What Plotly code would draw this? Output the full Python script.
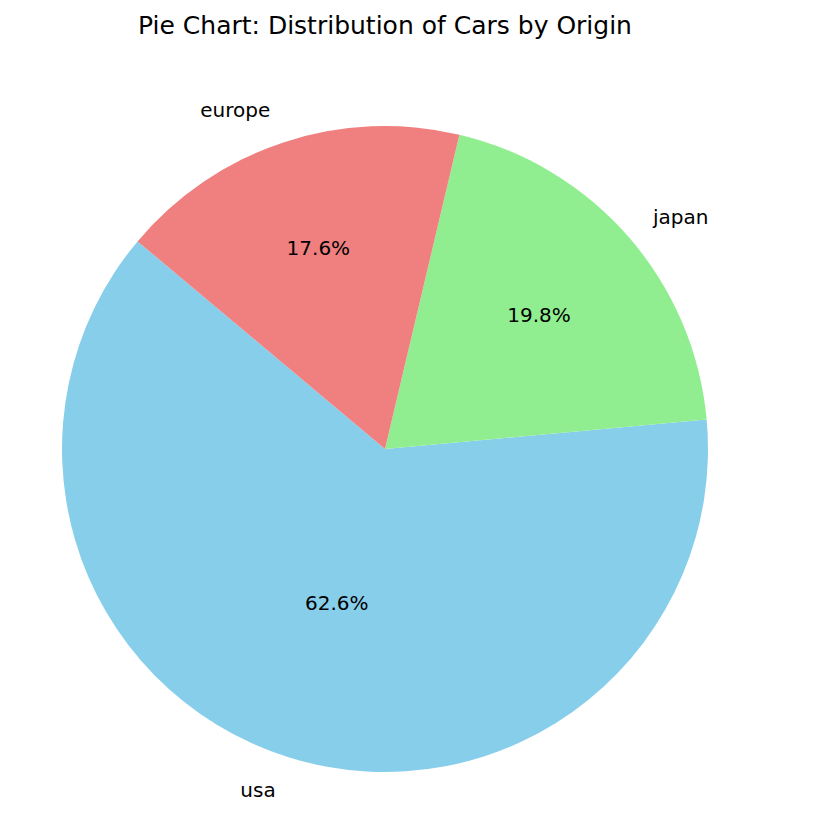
import plotly.graph_objects as go

origins = ['usa', 'japan', 'europe']
counts = [249, 79, 70]
colors = ['skyblue', 'lightgreen', 'lightcoral']
start_angle = 140  # degrees, counter-clockwise from 3 o'clock

W, H = 823, 817
off = 8  # page margin of the browser
cx, cy, r = 385 - off, 449 - off, 323  # pie centre and radius in px


def domain(radius):
    return dict(
        x=[(cx - radius) / W, (cx + radius) / W],
        y=[(H - cy - radius) / H, (H - cy + radius) / H],
    )


# plotly counter-clockwise pies use the clockwise edge of the first slice
total = sum(counts)
rotation = (90 - start_angle - 360 * counts[0] / total) % 360

fig = go.Figure()

# coloured wedges with the percentages inside
fig.add_trace(
    go.Pie(
        labels=origins,
        values=counts,
        marker=dict(colors=colors, line=dict(width=0)),
        sort=False,
        direction='counterclockwise',
        rotation=rotation,
        textinfo='percent',
        texttemplate='%{percent:.1%}',
        textposition='inside',
        insidetextorientation='horizontal',
        insidetextfont=dict(family='DejaVu Sans', size=20, color='black'),
        domain=domain(r),
        showlegend=False,
        hoverinfo='label+percent',
    )
)

# transparent, slightly bigger copy only for the outside names
fig.add_trace(
    go.Pie(
        labels=origins,
        values=counts,
        marker=dict(colors=['rgba(0,0,0,0)'] * 3, line=dict(width=0)),
        sort=False,
        direction='counterclockwise',
        rotation=rotation,
        textinfo='label',
        textposition='outside',
        outsidetextfont=dict(family='DejaVu Sans', size=20, color='black'),
        domain=domain(r * 1.07),
        showlegend=False,
        hoverinfo='skip',
        automargin=False,
    )
)

fig.update_layout(
    title=dict(
        text='Pie Chart: Distribution of Cars by Origin',
        x=cx / W,
        xanchor='center',
        y=1 - (25 - off) / H,
        yanchor='middle',
        font=dict(family='DejaVu Sans', size=25, color='black'),
    ),
    width=W,
    height=H,
    margin=dict(l=0, r=0, t=0, b=0),
    paper_bgcolor='white',
    plot_bgcolor='white',
)

fig.write_html('out.html')
